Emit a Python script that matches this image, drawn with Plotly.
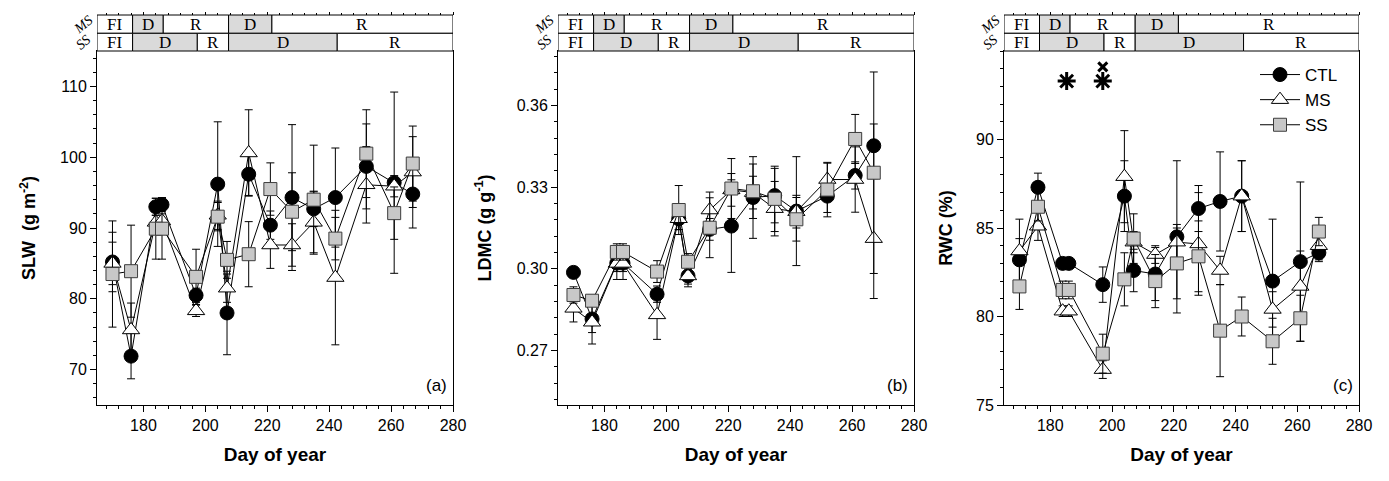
import plotly.graph_objects as go

# sampling days (day of year)
days = [170, 176, 184, 186, 197, 204, 207, 214, 221, 228, 235, 242, 252, 261, 267]

# (a) specific leaf weight, g m-2
slw_ctl = [85.2, 71.9, 93.0, 93.3, 80.5, 96.2, 78.0, 97.6, 90.4, 94.3, 92.7, 94.3, 98.7, 96.4, 94.8]
slw_ms = [85.0, 75.6, 90.8, 91.0, 78.3, 91.8, 81.5, 100.6, 87.6, 87.6, 90.8, 83.0, 96.1, 95.9, 97.9]
slw_ss = [83.5, 83.9, 89.9, 89.9, 83.1, 91.6, 85.5, 86.3, 95.5, 92.3, 94.0, 88.5, 100.5, 92.1, 99.1]
slw_ctl_se = [4.2, 3.2, 1.2, 1.0, 1.0, 8.8, 5.9, 3.0, 2.0, 10.3, 2.5, 7.0, 6.0, 12.8, 4.8]
slw_ms_se = [3.0, 3.8, 1.0, 1.0, 0.8, 2.0, 2.0, 6.1, 3.3, 3.0, 4.3, 9.5, 5.4, 1.5, 5.0]
slw_ss_se = [7.5, 6.5, 4.3, 4.3, 3.9, 2.0, 2.6, 4.6, 3.7, 5.5, 7.7, 3.0, 6.2, 3.7, 5.3]

# (b) leaf dry matter content, g g-1
ldmc_ctl = [0.2987, 0.2816, 0.3021, 0.3021, 0.2907, 0.3184, 0.2974, 0.3145, 0.3157, 0.3262, 0.3269, 0.3212, 0.3267, 0.3343, 0.3452]
ldmc_ms = [0.2855, 0.2804, 0.3020, 0.3020, 0.2831, 0.3184, 0.2974, 0.3216, 0.3290, 0.3280, 0.3221, 0.3210, 0.3328, 0.3328, 0.3111]
ldmc_ss = [0.2904, 0.2883, 0.3062, 0.3062, 0.2990, 0.3216, 0.3026, 0.3151, 0.3295, 0.3285, 0.3257, 0.3182, 0.3291, 0.3477, 0.3353]
ldmc_ctl_se = [0.002, 0.005, 0.006, 0.006, 0.003, 0.004, 0.003, 0.004, 0.017, 0.015, 0.010, 0.020, 0.006, 0.005, 0.008]
ldmc_ms_se = [0.005, 0.008, 0.003, 0.003, 0.009, 0.004, 0.004, 0.0066, 0.006, 0.006, 0.010, 0.006, 0.006, 0.012, 0.022]
ldmc_ss_se = [0.003, 0.002, 0.003, 0.003, 0.004, 0.009, 0.003, 0.011, 0.011, 0.010, 0.012, 0.008, 0.010, 0.009, 0.037]

# (c) relative water content, %
rwc_ctl = [83.2, 87.3, 83.0, 83.0, 81.8, 86.8, 82.6, 82.4, 84.5, 86.1, 86.5, 86.8, 82.0, 83.1, 83.6]
rwc_ms = [83.7, 85.1, 80.3, 80.3, 77.0, 87.9, 84.2, 83.5, 84.2, 84.1, 82.6, 86.8, 80.4, 81.7, 84.0]
rwc_ss = [81.7, 86.2, 81.5, 81.5, 77.9, 82.1, 84.4, 82.0, 83.0, 83.4, 79.2, 80.0, 78.6, 79.9, 84.8]
rwc_ctl_se = [1.2, 0.8, 0.3, 0.3, 1.0, 2.0, 1.2, 1.5, 4.3, 1.3, 2.8, 2.0, 3.5, 4.5, 0.5]
rwc_ms_se = [1.8, 0.8, 0.3, 0.3, 0.5, 2.6, 0.6, 0.5, 1.0, 2.9, 0.8, 2.0, 1.0, 2.0, 0.8]
rwc_ss_se = [1.3, 0.8, 0.5, 0.5, 1.1, 1.5, 1.4, 1.5, 2.0, 2.0, 2.6, 1.1, 1.3, 1.3, 0.8]

# significance marks in (c)
star_days = [185.3, 197.0]
star_y = [93.3, 93.3]
cross_days = [197.0]
cross_y = [94.1]

# treatment phases (FI = full irrigation, D = drought, R = recovery)
ms_bounds = [165, 176.5, 186.4, 207.5, 221.5, 280]
ss_bounds = [165, 176.5, 197.4, 207.5, 242.6, 280]
phase_labels = ["FI", "D", "R", "D", "R"]

# the page body has an 8px margin, so the figure is drawn 8px in and 8px down
OFF = 8
W, H = 1389 - OFF, 481 - OFF
M_TOP, M_BOT = 15 - OFF, 76
plot_h = H - M_TOP - M_BOT
y_top = (405 - 51) / plot_h          # data area top (paper)
y_mid = (405 - 33.3) / plot_h        # boundary between SS and MS rows


def px(x):
    return (x - OFF) / W


domains = [[px(97), px(453)], [px(558), px(914)], [px(1004), px(1359)]]

panels = [
    dict(ctl=slw_ctl, ms=slw_ms, ss=slw_ss, ctl_se=slw_ctl_se, ms_se=slw_ms_se, ss_se=slw_ss_se,
         yrange=[65, 115], ytickvals=[70, 80, 90, 100, 110], yminor=2, fmt="",
         ytitle="<b>SLW  (g m<sup>-2</sup>)</b>", tag="(a)", standoff=19),
    dict(ctl=ldmc_ctl, ms=ldmc_ms, ss=ldmc_ss, ctl_se=ldmc_ctl_se, ms_se=ldmc_ms_se, ss_se=ldmc_ss_se,
         yrange=[0.25, 0.38], ytickvals=[0.27, 0.30, 0.33, 0.36], yminor=0.006, fmt=".2f",
         ytitle="<b>LDMC (g g<sup>-1</sup>)</b>", tag="(b)", standoff=20),
    dict(ctl=rwc_ctl, ms=rwc_ms, ss=rwc_ss, ctl_se=rwc_ctl_se, ms_se=rwc_ms_se, ss_se=rwc_ss_se,
         yrange=[75, 95], ytickvals=[75, 80, 85, 90], yminor=1, fmt="",
         ytitle="<b>RWC (%)</b>", tag="(c)", standoff=18),
]

FONT = "Arial, Liberation Sans, sans-serif"
SERIF = "Times New Roman, Liberation Serif, serif"

fig = go.Figure()
shapes, annotations = [], []
layout = {}

for i, p in enumerate(panels):
    n = i + 1
    xa = "x" if n == 1 else f"x{n}"
    ya = "y" if n == 1 else f"y{n}"
    last = n == 3

    series = [
        ("CTL", p["ctl"], p["ctl_se"], dict(symbol="circle", size=14, color="black",
                                          line=dict(color="black", width=1))),
        ("MS", p["ms"], p["ms_se"], dict(symbol="triangle-up", size=15, color="white",
                                        line=dict(color="black", width=1))),
        ("SS", p["ss"], p["ss_se"], dict(symbol="square", size=13, color="rgb(200,200,200)",
                                        line=dict(color="rgb(60,60,60)", width=1))),
    ]
    for name, vals, se, mk in series:
        fig.add_trace(go.Scatter(
            x=days, y=vals, mode="lines+markers", name=name,
            line=dict(color="black", width=1), marker=mk,
            error_y=dict(type="data", array=se, color="black", thickness=1, width=4),
            xaxis=xa, yaxis=ya, showlegend=last,
        ))

    # top tick axis on the phase strip
    top_ax = f"x{n + 3}"
    fig.add_trace(go.Scatter(x=[None], y=[None], xaxis=top_ax, yaxis=ya,
                             showlegend=False, hoverinfo="skip"))

    layout["xaxis" if n == 1 else f"xaxis{n}"] = dict(
        domain=domains[i], anchor=ya, range=[165, 280], dtick=20, tick0=0,
        ticks="outside", ticklen=6, tickwidth=1, tickcolor="black",
        minor=dict(dtick=4, tick0=0, ticks="outside", ticklen=3, tickcolor="black"),
        showline=True, linecolor="black", linewidth=1, mirror=True,
        showgrid=False, zeroline=False, automargin=False,
        tickfont=dict(family=FONT, size=16, color="black"),
        title=dict(text="<b>Day of year</b>", font=dict(family=FONT, size=19, color="black"), standoff=14),
    )
    layout[f"xaxis{n + 3}"] = dict(
        overlaying=xa, anchor="free", position=1.0, side="top", range=[165, 280],
        dtick=20, tick0=0, ticks="outside", ticklen=3, tickcolor="black",
        minor=dict(dtick=4, tick0=0, ticks="outside", ticklen=2, tickcolor="black"),
        showticklabels=False, showline=False, showgrid=False, zeroline=False,
        automargin=False,
    )
    layout["yaxis" if n == 1 else f"yaxis{n}"] = dict(
        domain=[0, y_top], anchor=xa, range=p["yrange"], tickvals=p["ytickvals"],
        tickformat=p["fmt"], ticks="outside", ticklen=6, tickcolor="black",
        minor=dict(dtick=p["yminor"], tick0=0, ticks="outside", ticklen=3, tickcolor="black"),
        showline=True, linecolor="black", linewidth=1, mirror=True,
        showgrid=False, zeroline=False, automargin=False,
        tickfont=dict(family=FONT, size=16, color="black"),
        title=dict(text=p["ytitle"], font=dict(family=FONT, size=18, color="black"),
                   standoff=p["standoff"]),
    )

    # phase strips
    for bounds, y0, y1 in [(ms_bounds, y_mid, 1.0), (ss_bounds, y_top, y_mid)]:
        for k, lab in enumerate(phase_labels):
            x0, x1 = bounds[k], bounds[k + 1]
            shapes.append(dict(
                type="rect", xref=xa, yref="paper", x0=x0, x1=x1, y0=y0, y1=y1,
                fillcolor="rgb(218,218,218)" if lab == "D" else "white",
                line=dict(color="black", width=1), layer="above",
            ))
            annotations.append(dict(
                x=(x0 + x1) / 2, y=(y0 + y1) / 2, xref=xa, yref="paper", text=lab,
                xanchor="center", yanchor="middle", showarrow=False,
                font=dict(family=SERIF, size=17, color="black"),
            ))
    for lab, yc in [("MS", (y_mid + 1) / 2), ("SS", (y_top + y_mid) / 2)]:
        annotations.append(dict(
            x=domains[i][0] - 14 / W, y=yc, xref="paper", yref="paper",
            text=f"<i>{lab}</i>", showarrow=False, textangle=-40,
            xanchor="center", yanchor="middle",
            font=dict(family=SERIF, size=14, color="black"),
        ))

    annotations.append(dict(
        x=domains[i][1] - 4 / W, y=0.02, xref="paper", yref="paper", text=p["tag"],
        xanchor="right", yanchor="bottom", showarrow=False,
        font=dict(family=FONT, size=17, color="black"),
    ))

# significance marks
fig.add_trace(go.Scatter(x=star_days, y=star_y, mode="markers", xaxis="x3", yaxis="y3",
                         marker=dict(symbol="asterisk-open", size=15, color="black",
                                     line=dict(color="black", width=3)),
                         showlegend=False, hoverinfo="skip"))
fig.add_trace(go.Scatter(x=cross_days, y=cross_y, mode="markers", xaxis="x3", yaxis="y3",
                         marker=dict(symbol="x-thin-open", size=9, color="black",
                                     line=dict(color="black", width=3)),
                         showlegend=False, hoverinfo="skip"))

fig.update_layout(
    **layout,
    width=W, height=H,
    margin=dict(l=0, r=0, t=M_TOP, b=M_BOT, autoexpand=False),
    paper_bgcolor="white", plot_bgcolor="white",
    shapes=shapes, annotations=annotations,
    showlegend=True,
    legend=dict(x=px(1255), y=(405 - 57) / plot_h, xanchor="left", yanchor="top",
                bgcolor="rgba(0,0,0,0)", font=dict(family=FONT, size=17, color="black"),
                itemwidth=40, tracegroupgap=0),
    font=dict(family=FONT, color="black"),
)

fig.write_html("out.html")
